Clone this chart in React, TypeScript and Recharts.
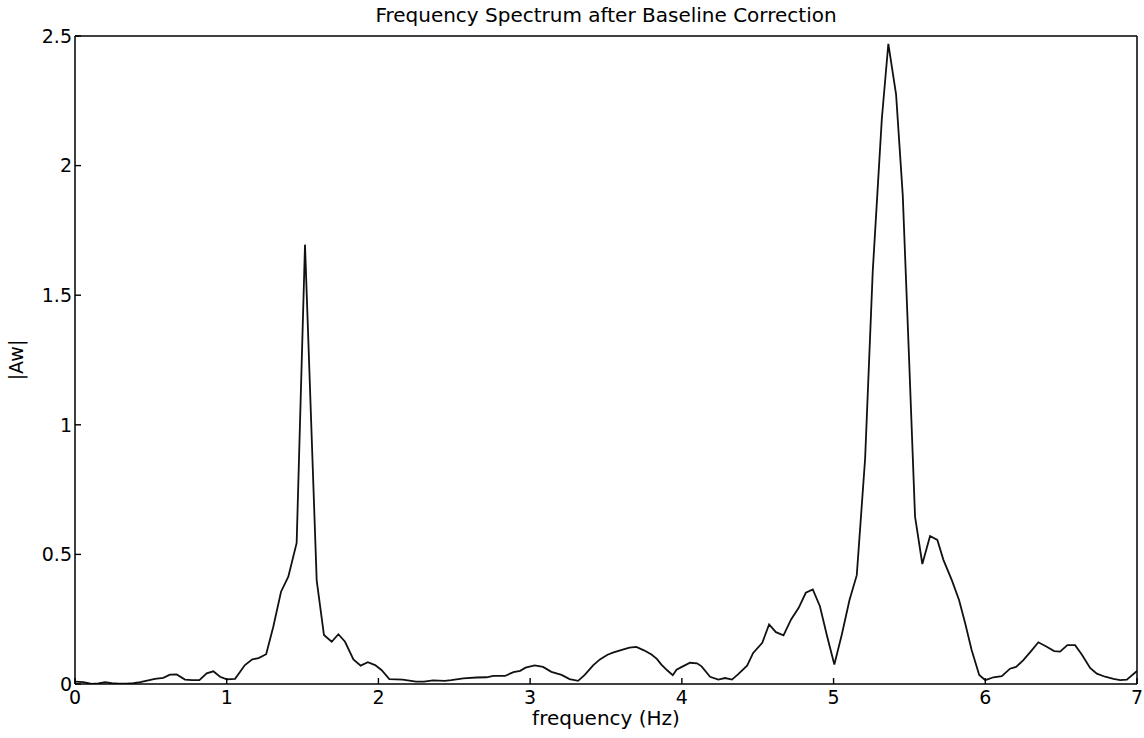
import { LineChart, Line, XAxis, YAxis, Label } from "recharts";

// frequency (Hz) of each sample
const FREQ = [
  0.0, 0.055, 0.11, 0.154, 0.198, 0.242, 0.286, 0.34, 0.385, 0.43,
  0.483, 0.527, 0.582, 0.626, 0.67, 0.725, 0.77, 0.82, 0.868, 0.912,
  0.956, 1.0, 1.055, 1.12, 1.169, 1.21, 1.26, 1.307, 1.358, 1.406,
  1.461, 1.516, 1.593, 1.641, 1.692, 1.736, 1.78, 1.835, 1.883, 1.93,
  1.978, 2.02, 2.072, 2.16, 2.248, 2.3, 2.36, 2.437, 2.48, 2.56,
  2.647, 2.713, 2.757, 2.834, 2.89, 2.934, 2.97, 3.03, 3.085, 3.14,
  3.207, 3.26, 3.316, 3.36, 3.415, 3.46, 3.51, 3.55, 3.61, 3.655,
  3.7, 3.75, 3.8, 3.835, 3.865, 3.905, 3.94, 3.965, 4.0, 4.054,
  4.1, 4.13, 4.186, 4.24, 4.285, 4.33, 4.37, 4.43, 4.47, 4.53,
  4.575, 4.62, 4.67, 4.72, 4.77, 4.817, 4.863, 4.91, 4.957, 5.005,
  5.054, 5.105, 5.153, 5.208, 5.258, 5.318, 5.361, 5.412, 5.456, 5.498,
  5.537, 5.585, 5.636, 5.684, 5.724, 5.78, 5.827, 5.867, 5.91, 5.96,
  6.0, 6.054, 6.109, 6.163, 6.203, 6.251, 6.306, 6.35, 6.405, 6.454,
  6.493, 6.541, 6.592, 6.636, 6.691, 6.735, 6.79, 6.845, 6.889, 6.933,
  7.0,
];

// |Aw| at each frequency above
const AMP = [
  0.009, 0.007, 0.0, 0.002, 0.007, 0.003, 0.001, 0.001, 0.003, 0.007,
  0.014, 0.02, 0.024, 0.036, 0.037, 0.017, 0.015, 0.015, 0.041, 0.049,
  0.028, 0.018, 0.02, 0.073, 0.095, 0.1, 0.115, 0.221, 0.356, 0.414,
  0.544, 1.695, 0.4, 0.189, 0.163, 0.192, 0.163, 0.095, 0.071, 0.084,
  0.073, 0.054, 0.019, 0.017, 0.009, 0.009, 0.014, 0.012, 0.015, 0.022,
  0.025, 0.026, 0.031, 0.031, 0.046, 0.051, 0.063, 0.072, 0.066, 0.047,
  0.035, 0.019, 0.012, 0.035, 0.072, 0.095, 0.113, 0.122, 0.133, 0.14,
  0.143, 0.13, 0.114, 0.097, 0.075, 0.052, 0.034, 0.055, 0.066, 0.082,
  0.08, 0.068, 0.028, 0.017, 0.023, 0.017, 0.037, 0.071, 0.12, 0.159,
  0.23, 0.2, 0.188, 0.249, 0.294, 0.352, 0.365, 0.3, 0.185, 0.075,
  0.19, 0.324, 0.42, 0.87, 1.59, 2.18, 2.47, 2.275, 1.886, 1.25,
  0.646, 0.463, 0.571, 0.556, 0.479, 0.4, 0.324, 0.235, 0.131, 0.035,
  0.015, 0.026, 0.03, 0.059, 0.066, 0.092, 0.13, 0.161, 0.144, 0.127,
  0.125, 0.15, 0.15, 0.114, 0.062, 0.04, 0.028, 0.02, 0.015, 0.017,
  0.05,
];

const X_TICKS = [0, 1, 2, 3, 4, 5, 6, 7];
const Y_TICKS = [0, 0.5, 1, 1.5, 2, 2.5];

const FONT = "'DejaVu Sans', Arial, sans-serif";
const INK = "#000";

const data = FREQ.map((f, i) => ({ f, a: AMP[i] }));

const fmtY = (v: number) => String(v);

function YTitle(props: any) {
  const vb = props.viewBox || {};
  const cx = (vb.x ?? 0) + 16;
  const cy = (vb.y ?? 0) + (vb.height ?? 0) / 2;
  return (
    <text
      x={cx}
      y={cy}
      transform={`rotate(-90 ${cx} ${cy})`}
      textAnchor="middle"
      dominantBaseline="central"
      fontFamily={FONT}
      fontSize={19}
      fill={INK}
    >
      |Aw|
    </text>
  );
}

export default function App() {
  const axisLine = { stroke: INK, strokeWidth: 1.5 };
  const tickLine = { stroke: INK, strokeWidth: 1.4 };
  const tickFont = { fontFamily: FONT, fontSize: 19, fill: INK };

  return (
    <div style={{ position: "relative", width: 1144, height: 738, background: "#fff" }}>
      <style>{"body{margin:0}"}</style>
      <div
        style={{
          position: "absolute",
          top: 3,
          left: 75,
          width: 1062,
          textAlign: "center",
          fontFamily: FONT,
          fontSize: 20,
          color: INK,
        }}
      >
        Frequency Spectrum after Baseline Correction
      </div>
      <LineChart width={1144} height={738} data={data} margin={{ top: 0, right: 0, bottom: 0, left: 0 }}>
        <XAxis
          xAxisId="b"
          dataKey="f"
          type="number"
          domain={[0, 7]}
          ticks={X_TICKS}
          height={54}
          axisLine={axisLine}
          tickLine={tickLine}
          tickSize={-6}
          tickMargin={13}
          tick={tickFont}
          allowDataOverflow
        >
          <Label
            value="frequency (Hz)"
            position="insideBottom"
            offset={13}
            style={{ fontFamily: FONT, fontSize: 20, fill: INK }}
          />
        </XAxis>
        <XAxis
          xAxisId="t"
          orientation="top"
          type="number"
          domain={[0, 7]}
          ticks={X_TICKS}
          height={36}
          axisLine={axisLine}
          tickLine={tickLine}
          tickSize={-6}
          tick={false}
          allowDataOverflow
        />
        <YAxis
          yAxisId="l"
          type="number"
          domain={[0, 2.5]}
          ticks={Y_TICKS}
          width={75}
          axisLine={axisLine}
          tickLine={tickLine}
          tickSize={-6}
          tickMargin={9}
          tick={tickFont}
          tickFormatter={fmtY}
          allowDataOverflow
        >
          <Label content={<YTitle />} />
        </YAxis>
        <YAxis
          yAxisId="r"
          orientation="right"
          type="number"
          domain={[0, 2.5]}
          ticks={Y_TICKS}
          width={7}
          axisLine={axisLine}
          tickLine={tickLine}
          tickSize={-6}
          tick={false}
          allowDataOverflow
        />
        <Line
          xAxisId="b"
          yAxisId="l"
          dataKey="a"
          type="linear"
          stroke="#111"
          strokeWidth={1.8}
          dot={false}
          activeDot={false}
          isAnimationActive={false}
        />
      </LineChart>
    </div>
  );
}
